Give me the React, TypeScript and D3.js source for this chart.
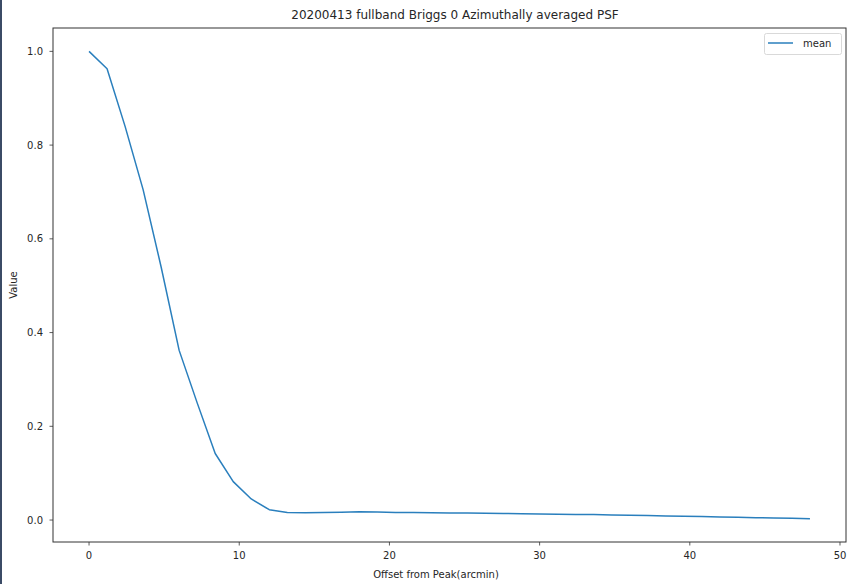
import React from "react";
import * as d3 from "d3";

const offsets: number[] = [
  0, 1.2, 2.4, 3.6, 4.8, 6.0, 7.2, 8.4, 9.6, 10.8, 12.0, 13.2, 14.4, 15.6, 16.8, 18.0, 19.2, 20.4,
  21.6, 22.8, 24.0, 25.2, 26.4, 27.6, 28.8, 30.0, 31.2, 32.4, 33.6, 34.8, 36.0, 37.2, 38.4, 39.6,
  40.8, 42.0, 43.2, 44.4, 45.6, 46.8, 48.0,
];
const meanValues: number[] = [
  1.0, 0.963, 0.84, 0.705, 0.54, 0.362, 0.25, 0.142, 0.082, 0.045, 0.022, 0.016, 0.0158, 0.016,
  0.0165, 0.0175, 0.017, 0.0162, 0.016, 0.0158, 0.0152, 0.0148, 0.0143, 0.014, 0.0135, 0.0128,
  0.0125, 0.012, 0.0117, 0.011, 0.0102, 0.0095, 0.0088, 0.008, 0.0073, 0.0066, 0.0058, 0.005,
  0.0043, 0.0037, 0.003,
];
const xTicks: number[] = [0, 10, 20, 30, 40, 50];
const yTicks: number[] = [0, 0.2, 0.4, 0.6, 0.8, 1.0];
const titleText = "20200413 fullband Briggs 0 Azimuthally averaged PSF";
const xLabel = "Offset from Peak(arcmin)";
const yLabel = "Value";
const seriesName = "mean";

export default function App() {
  const W = 848;
  const H = 584;
  const left = 53;
  const right = 846;
  const top = 28;
  const bottom = 542;
  const xmin = d3.min(offsets)!;
  const xmax = d3.max(offsets)!;
  const ymin = d3.min(meanValues)!;
  const ymax = d3.max(meanValues)!;
  const xm = (xmax - xmin) * 0.05;
  const ym = (ymax - ymin) * 0.05;
  const x = d3.scaleLinear().domain([xmin - xm, xmax + xm]).range([left, right]);
  const y = d3.scaleLinear().domain([ymin - ym, ymax + ym]).range([bottom, top]);
  const line = d3
    .line<number>()
    .x((_, i) => x(offsets[i]))
    .y((d) => y(d));
  const font = "'DejaVu Sans', sans-serif";
  const txt = "#262626";
  return (
    <svg
      width={W}
      height={H}
      style={{ position: "absolute", left: 0, top: 0, background: "#fff" }}
      fontFamily={font}
    >
      <rect x={0} y={0} width={W} height={H} fill="#fff" />
      <rect x={0} y={0} width={2} height={H} fill="#3b4b66" />
      <text x={455} y={19} textAnchor="middle" fontSize={12} fill={txt}>
        {titleText}
      </text>
      <path d={line(meanValues) || ""} fill="none" stroke="#2a7fbd" strokeWidth={1.5} strokeLinejoin="round" />
      <rect x={left} y={top} width={right - left} height={bottom - top} fill="none" stroke="#333" strokeWidth={1} />
      {xTicks.map((t) => (
        <g key={"x" + t}>
          <line x1={x(t)} x2={x(t)} y1={bottom} y2={bottom + 3.5} stroke="#333" strokeWidth={0.8} />
          <text x={x(t)} y={bottom + 17} textAnchor="middle" fontSize={10} fill={txt}>
            {t}
          </text>
        </g>
      ))}
      {yTicks.map((t) => (
        <g key={"y" + t}>
          <line x1={left - 3.5} x2={left} y1={y(t)} y2={y(t)} stroke="#333" strokeWidth={0.8} />
          <text x={left - 10} y={y(t) + 3.5} textAnchor="end" fontSize={10} fill={txt}>
            {t.toFixed(1)}
          </text>
        </g>
      ))}
      <text x={436} y={578} textAnchor="middle" fontSize={10} fill={txt}>
        {xLabel}
      </text>
      <text
        transform={`translate(17, ${(top + bottom) / 2}) rotate(-90)`}
        textAnchor="middle"
        fontSize={10}
        fill={txt}
      >
        {yLabel}
      </text>
      <g>
        <rect x={764.5} y={33.5} width={77} height={21} rx={2} fill="#fff" stroke="#d9d9d9" strokeWidth={1} />
        <line x1={768} x2={793} y1={43} y2={43} stroke="#2a7fbd" strokeWidth={1.5} />
        <text x={803} y={47} fontSize={10} fill={txt}>
          {seriesName}
        </text>
      </g>
    </svg>
  );
}
